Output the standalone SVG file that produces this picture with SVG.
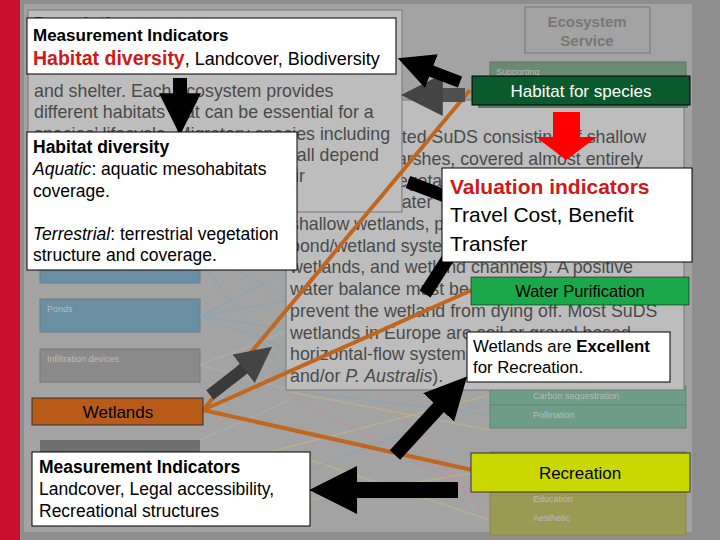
<svg xmlns="http://www.w3.org/2000/svg" width="720" height="540" viewBox="0 0 720 540">
<style>
text{font-family:"Liberation Sans",Arial,sans-serif}
.gt{font-size:17.8px;fill:#4a4a4a}
.bt{font-size:17.5px;fill:#000}
.sm{font-size:9px;fill:#bbb}
.box{fill:#fff;stroke:#000;stroke-width:1}
.or{stroke:#c0661e;stroke-width:4;fill:none}
.fl{stroke-width:1.5;fill:none;opacity:.6}
</style>
<defs>
<marker id="ah" markerWidth="3" markerHeight="3" refX="1.2" refY="1.5" orient="auto"><path d="M0,0L3,1.5L0,3z" fill="#000"/></marker>
<marker id="ahg" markerWidth="3" markerHeight="3" refX="1.2" refY="1.5" orient="auto"><path d="M0,0L3,1.5L0,3z" fill="#444"/></marker>
</defs>
<rect width="720" height="540" fill="#8e8e8e"/>
<rect x="24" y="4" width="668" height="528" fill="#a3a3a3"/>
<rect x="0" y="0" width="20" height="540" fill="#c8102e"/>

<g id="left-col">
<rect x="40" y="200" width="160" height="83" fill="#6a8fa3" stroke="#6d7d88"/>
<rect x="40" y="299" width="160" height="33" fill="#6a8fa3" stroke="#6d7d88"/>
<text x="47" y="312" class="sm">Ponds</text>
<rect x="40" y="349" width="160" height="33" fill="#8a8a8a" stroke="#777"/>
<text x="47" y="362" class="sm">Infiltration devices</text>
<rect x="40" y="440" width="160" height="20" fill="#6e6e6e"/>
</g>

<g id="faint-lines">
<path class="fl" stroke="#7fa6bb" d="M200,316L290,270M200,316L290,300M200,316L290,330M200,316L290,350M200,250L290,230M200,250L290,300M200,260L290,380"/>
<path class="fl" stroke="#b0b0b0" d="M200,365L290,330M200,365L290,390M200,440L290,400"/>
<path class="fl" stroke="#c8b87a" d="M200,470L490,395M310,460L490,520M310,500L490,470M290,392L490,430"/>
<path class="fl" stroke="#c88aa0" d="M290,395L490,500M380,392L490,520"/>
<path class="fl" stroke="#7fa6bb" d="M300,392L490,415M310,470L490,400"/>
</g>

<g id="right-col">
<rect x="490" y="62" width="196" height="43" fill="#6b8a72" stroke="#5d7763"/>
<text x="496" y="75" class="sm">Supporting</text>
<rect x="490" y="386" width="196" height="19" fill="#6e9c86" stroke="#5f8a76"/>
<text x="533" y="399" class="sm">Carbon sequestration</text>
<rect x="490" y="405" width="196" height="23" fill="#6e9c86" stroke="#5f8a76"/>
<text x="533" y="418" class="sm">Pollination</text>
<rect x="490" y="452" width="196" height="83" fill="#9a9a55" stroke="#86864a"/>
<text x="496" y="464" class="sm">Cultural</text>
<text x="533" y="502" class="sm">Education</text>
<text x="533" y="521" class="sm">Aesthetic</text>
</g>

<g id="desc2">
<rect x="286" y="100" width="398" height="290" fill="#bdbdbd" stroke="#777"/>
<text x="646" y="143" class="gt" text-anchor="end">vegetated SuDS consisting of shallow</text>
<text x="643" y="165" class="gt" text-anchor="end">marshes, covered almost entirely</text>
<text x="290" y="187" class="gt">with aquatic vegetation</text>
<text x="290" y="208" class="gt">and shallow water</text>
<text x="290" y="230" class="gt">shallow wetlands, pond/wetland</text>
<text x="290" y="252" class="gt">pond/wetland systems</text>
<text x="290" y="273" class="gt">wetlands, and wetland channels).  A positive</text>
<text x="290" y="295" class="gt">water balance must be maintained to</text>
<text x="290" y="317" class="gt">prevent the wetland from dying off.  Most SuDS</text>
<text x="290" y="339" class="gt">wetlands in Europe are soil or gravel based</text>
<text x="290" y="360" class="gt">horizontal-flow systems</text>
<text x="290" y="382" class="gt">and/or <tspan font-style="italic">P. Australis</tspan>).</text>
</g>

<g id="desc1">
<rect x="28" y="10" width="374" height="202" fill="#bdbdbd" stroke="#777"/>
<text x="34" y="30" class="gt" font-weight="bold">Description</text>
<text x="34" y="97" class="gt">and shelter. Each ecosystem provides</text>
<text x="34" y="118" class="gt">different habitats that can be essential for a</text>
<text x="34" y="140" class="gt">species’ lifecycle. Migratory species including</text>
<text x="34" y="161" class="gt">birds, fish, mammals and insects all depend</text>
<text x="34" y="182" class="gt">on wetlands at some stage of their</text>
</g>

<g id="eco-service">
<rect x="525" y="7" width="125" height="46" fill="none" stroke="#777"/>
<text x="587" y="27" text-anchor="middle" font-size="15" font-weight="bold" fill="#777">Ecosystem</text>
<text x="587" y="46" text-anchor="middle" font-size="15" font-weight="bold" fill="#777">Service</text>
</g>

<g id="connectors">
<path class="or" d="M203,410L470,90M203,410L472,290M203,410L472,470"/>
<line x1="465" y1="95" x2="426" y2="95" stroke="#505050" stroke-width="14" marker-end="url(#ahg)"/>
<line x1="460" y1="82" x2="418" y2="66" stroke="#000" stroke-width="12" marker-end="url(#ah)"/>
<line x1="180" y1="78" x2="180" y2="110" stroke="#000" stroke-width="14" marker-end="url(#ah)"/>
<path d="M553,112H580V137H597L566,160L536,137H553Z" fill="#f00"/>
<line x1="408" y1="182" x2="450" y2="198" stroke="#000" stroke-width="13"/>
<line x1="425" y1="294" x2="452" y2="252" stroke="#000" stroke-width="13"/>
<line x1="210" y1="395" x2="255" y2="360" stroke="#3a3a3a" stroke-width="12" marker-end="url(#ahg)"/>
<line x1="395" y1="455" x2="450" y2="395" stroke="#000" stroke-width="14" marker-end="url(#ah)"/>
<line x1="458" y1="490" x2="338" y2="490" stroke="#000" stroke-width="16" marker-end="url(#ah)"/>
</g>

<g id="mi-top">
<rect x="27" y="18" width="369" height="56" class="box"/>
<text x="33" y="41" font-size="17" font-weight="bold" fill="#000">Measurement Indicators</text>
<text x="33" y="65" font-size="18"><tspan fill="#d01818" font-weight="bold" font-size="19.5">Habitat diversity</tspan><tspan fill="#000">, Landcover, Biodiversity</tspan></text>
</g>

<g id="habitat-div">
<rect x="27" y="132" width="270" height="138" class="box"/>
<text x="33" y="153" class="bt" font-weight="bold">Habitat diversity</text>
<text x="33" y="175" class="bt"><tspan font-style="italic">Aquatic</tspan>: aquatic mesohabitats</text>
<text x="33" y="197" class="bt">coverage.</text>
<text x="33" y="240" class="bt"><tspan font-style="italic">Terrestrial</tspan>: terrestrial vegetation</text>
<text x="33" y="261" class="bt">structure and coverage.</text>
</g>

<g id="habitat-species">
<rect x="478" y="80" width="210" height="28" fill="#5d7763"/>
<rect x="472" y="76" width="218" height="29" fill="#0b5a2e" stroke="#000"/>
<text x="581" y="97" text-anchor="middle" font-size="17" fill="#fff">Habitat for species</text>
</g>

<g id="valuation">
<rect x="442" y="168" width="250" height="94" class="box"/>
<text x="450" y="194" font-size="21" font-weight="bold" fill="#d01818">Valuation indicators</text>
<text x="450" y="222" font-size="21" fill="#000">Travel Cost, Benefit</text>
<text x="450" y="251" font-size="21" fill="#000">Transfer</text>
</g>

<g id="water-pur">
<rect x="471" y="277" width="218" height="28" fill="#1aa84a" stroke="#000" stroke-width=".5"/>
<text x="580" y="297" text-anchor="middle" font-size="16.5" fill="#000">Water Purification</text>
</g>

<g id="excellent">
<rect x="467" y="332" width="203" height="50" class="box"/>
<text x="473" y="352" font-size="16.8">Wetlands are <tspan font-weight="bold">Excellent</tspan></text>
<text x="473" y="373" font-size="16.8">for Recreation.</text>
</g>

<g id="wetlands">
<rect x="32" y="398" width="171" height="27" fill="#b85a18" stroke="#333"/>
<text x="118" y="418" text-anchor="middle" font-size="17" fill="#000">Wetlands</text>
</g>

<g id="recreation">
<rect x="471" y="453" width="219" height="39" fill="#c8d800" stroke="#333"/>
<text x="580" y="488" text-anchor="middle" font-size="17" fill="#000" dy="-9">Recreation</text>
</g>

<g id="mi-bottom">
<rect x="32" y="452" width="278" height="74" class="box"/>
<text x="39" y="473" class="bt" font-weight="bold">Measurement Indicators</text>
<text x="39" y="495" class="bt">Landcover, Legal accessibility,</text>
<text x="39" y="517" class="bt">Recreational structures</text>
</g>
</svg>
